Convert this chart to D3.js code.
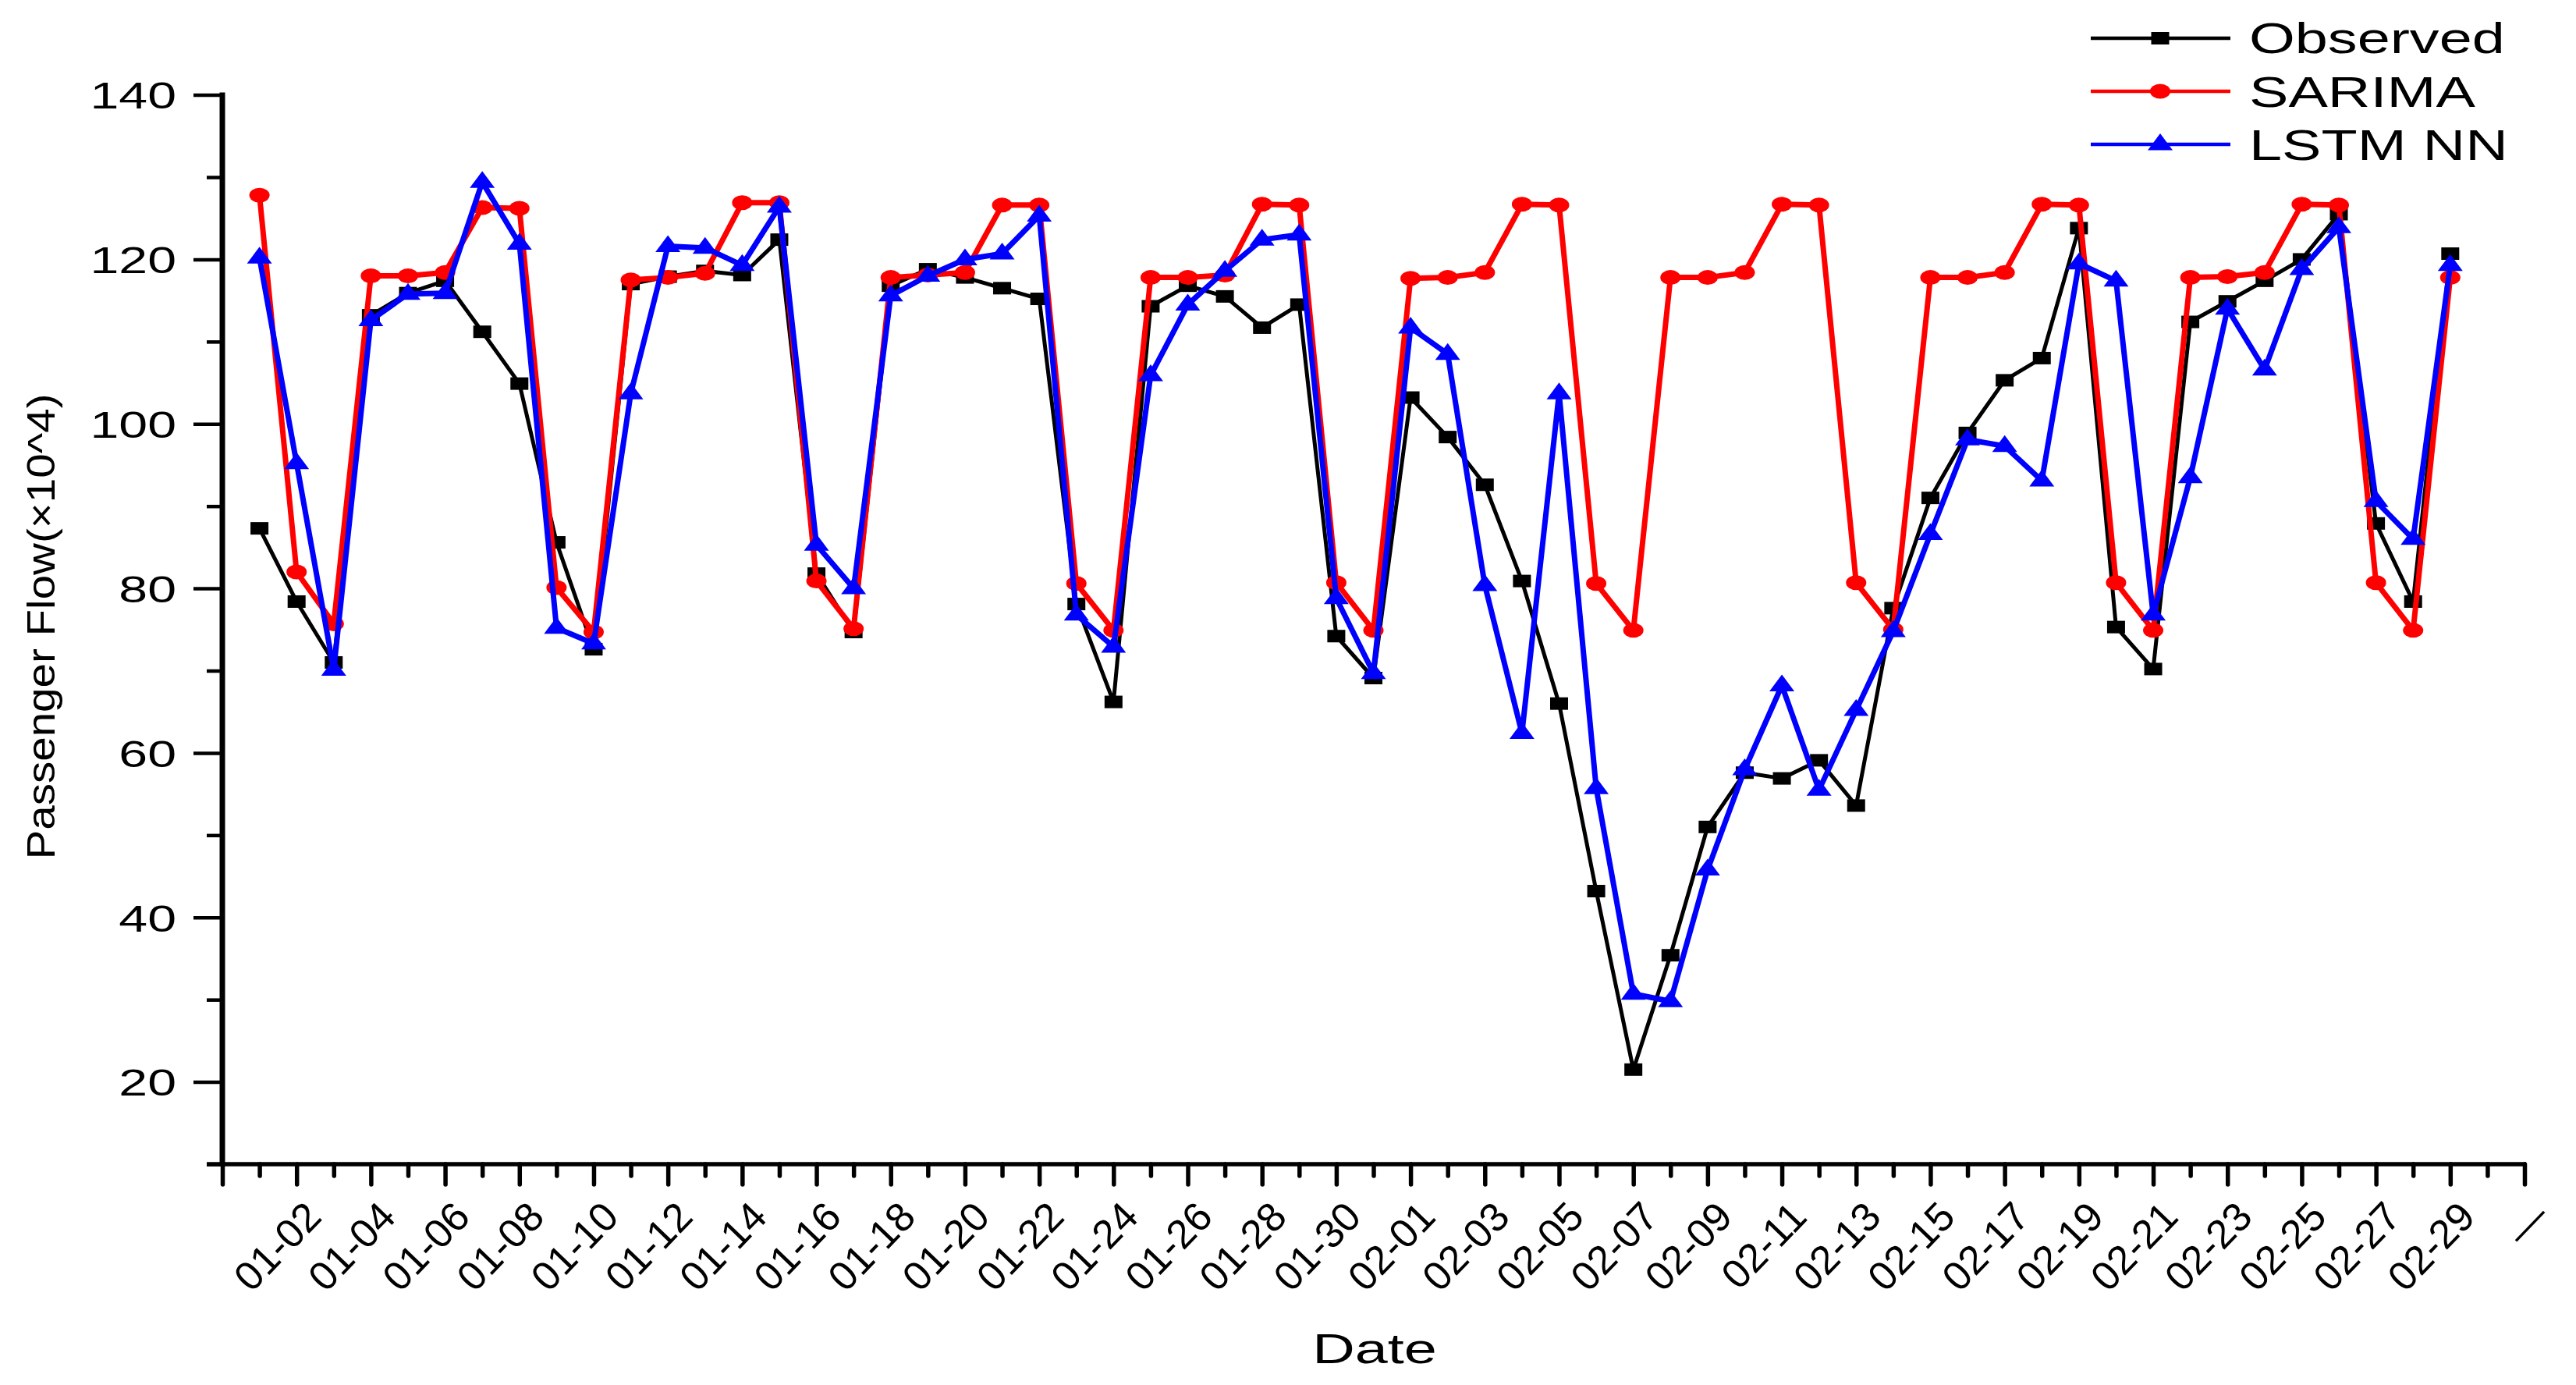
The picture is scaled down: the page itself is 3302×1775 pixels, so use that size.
<!DOCTYPE html>
<html><head><meta charset="utf-8">
<script src="https://cdn.jsdelivr.net/npm/d3@7"></script>
<style>
body{margin:0;background:#fff}
svg{display:block}
text{font-family:"Liberation Sans", Arial, sans-serif; fill:#000}
</style>
</head><body>
<svg id="chart" width="3302" height="1775"></svg>
<script>
// ---------------- data ----------------
const dates = ["01-01","01-02","01-03","01-04","01-05","01-06","01-07","01-08","01-09","01-10",
  "01-11","01-12","01-13","01-14","01-15","01-16","01-17","01-18","01-19","01-20",
  "01-21","01-22","01-23","01-24","01-25","01-26","01-27","01-28","01-29","01-30","01-31",
  "02-01","02-02","02-03","02-04","02-05","02-06","02-07","02-08","02-09","02-10",
  "02-11","02-12","02-13","02-14","02-15","02-16","02-17","02-18","02-19","02-20",
  "02-21","02-22","02-23","02-24","02-25","02-26","02-27","02-28","02-29"];

const observed = [87.3,78.4,71.0,113.2,115.9,117.4,111.2,104.9,85.6,72.6,
  117.0,117.9,118.6,118.1,122.4,81.8,74.7,116.8,118.8,117.8,
  116.5,115.2,78.1,66.2,114.3,116.8,115.5,111.7,114.5,74.2,69.1,
  103.2,98.4,92.6,80.9,66.0,43.2,21.5,35.4,51.0,
  57.6,56.9,59.1,53.6,77.6,91.0,98.9,105.3,108.0,123.8,
  75.3,70.2,112.4,114.9,117.4,120.0,125.5,87.9,78.4,120.7];

const sarima = [127.8,82.0,75.7,118.0,118.0,118.4,126.3,126.2,80.1,74.7,
  117.5,117.8,118.3,126.9,126.9,80.9,75.1,117.8,118.1,118.4,
  126.6,126.6,80.6,74.9,117.8,117.8,118.1,126.7,126.6,80.7,74.9,
  117.7,117.8,118.4,126.7,126.6,80.6,74.9,117.8,117.8,
  118.4,126.7,126.6,80.7,75.0,117.8,117.8,118.4,126.7,126.6,
  80.7,74.9,117.8,117.9,118.4,126.7,126.6,80.7,74.9,117.8];

const lstm = [120.2,95.2,70.1,112.6,115.8,115.9,129.4,121.9,75.2,73.3,
  103.7,121.6,121.4,119.3,126.4,85.3,80.0,115.6,118.0,120.0,
  120.7,125.3,76.8,72.9,105.9,114.5,118.6,122.4,123.0,78.8,69.7,
  111.7,108.5,80.4,62.4,103.7,55.7,30.7,29.8,45.8,
  58.0,68.2,55.5,65.2,74.8,86.6,98.1,97.3,93.1,119.5,
  117.4,76.8,93.5,114.0,106.6,118.8,123.9,90.6,86.0,119.3];

const seriesNames = ["Observed","SARIMA","LSTM NN"];
const yMajorTicks = [20,40,60,80,100,120,140];
const yMinorTicks = [10,30,50,70,90,110,130];
const xMajorTickLabels = ["","01-02","01-04","01-06","01-08","01-10","01-12","01-14","01-16","01-18",
  "01-20","01-22","01-24","01-26","01-28","01-30","02-01","02-03","02-05","02-07",
  "02-09","02-11","02-13","02-15","02-17","02-19","02-21","02-23","02-25","02-27","02-29","—"];
const xTitle = "Date";
const yTitle = "Passenger Flow(×10^4)";

// ---------------- layout ----------------
const svg = d3.select("#chart");
const x = d3.scaleLinear().domain([0, 62]).range([285, 3236]);
const y = d3.scaleLinear().domain([10, 140]).range([1492, 121.6]);
const SX = 1.38; // horizontal text stretch

// y axis minor
const gyMinor = svg.append("g").attr("transform","translate(285,0)")
  .call(d3.axisLeft(y).tickValues(yMinorTicks).tickSize(20).tickSizeOuter(0).tickFormat(""));
gyMinor.select(".domain").remove();
gyMinor.selectAll(".tick line").attr("stroke","#000").attr("stroke-width",4.5);

// y axis major
const gy = svg.append("g").attr("transform","translate(285,0)")
  .call(d3.axisLeft(y).tickValues(yMajorTicks).tickSize(37).tickSizeOuter(0).tickPadding(22));
gy.select(".domain").remove();
gy.selectAll(".tick line").attr("stroke","#000").attr("stroke-width",4.5);
gy.selectAll(".tick text")
  .attr("font-size",48)
  .attr("x", -59 / SX)
  .attr("dy","0.36em")
  .attr("transform",`scale(${SX},1)`);

// x axis minor
const gxMinor = svg.append("g").attr("transform","translate(0,1492)")
  .call(d3.axisBottom(x).tickValues(d3.range(1,62,2)).tickSize(15).tickSizeOuter(0).tickFormat(""));
gxMinor.select(".domain").remove();
gxMinor.selectAll(".tick line").attr("stroke","#000").attr("stroke-width",5.5).attr("stroke-linecap","round");

// x axis major
const gx = svg.append("g").attr("transform","translate(0,1492)")
  .call(d3.axisBottom(x).tickValues(d3.range(0,63,2)).tickSize(26).tickSizeOuter(0)
    .tickFormat((d,i) => xMajorTickLabels[i]));
gx.select(".domain").remove();
gx.selectAll(".tick line").attr("stroke","#000").attr("stroke-width",5.5).attr("stroke-linecap","round");
gx.selectAll(".tick text")
  .attr("font-size",52)
  .attr("x",null).attr("y",null).attr("dy",null)
  .attr("text-anchor","end")
  .attr("transform","translate(34,70) rotate(-46)");

// axis lines
svg.append("line").attr("x1",285).attr("x2",285).attr("y1",y(140)-3).attr("y2",1495)
  .attr("stroke","#000").attr("stroke-width",7);
svg.append("line").attr("x1",265).attr("x2",x(62)+2).attr("y1",1492).attr("y2",1492)
  .attr("stroke","#000").attr("stroke-width",5.5);

// axis titles
svg.append("text").attr("font-size",54).attr("text-anchor","middle")
  .attr("x",1762/1.4).attr("y",1747).attr("transform","scale(1.4,1)").text(xTitle);
svg.append("text").attr("font-size",50).attr("text-anchor","middle")
  .attr("transform","translate(70,803) rotate(-90)")
  .attr("textLength",597).attr("lengthAdjust","spacingAndGlyphs").text(yTitle);

// ---------------- series ----------------
const series = [
  {name: seriesNames[0], values: observed, color: "#000000", width: 5, marker: "square"},
  {name: seriesNames[1], values: sarima,   color: "#ff0000", width: 7, marker: "circle"},
  {name: seriesNames[2], values: lstm,     color: "#0000ff", width: 7, marker: "triangle"}
];

function drawMarker(g, type, cx, cy, color){
  if (type === "square") {
    g.append("rect").attr("x",cx-11.5).attr("y",cy-8).attr("width",23).attr("height",16).attr("fill",color);
  } else if (type === "circle") {
    g.append("ellipse").attr("cx",cx).attr("cy",cy).attr("rx",13).attr("ry",9.5).attr("fill",color);
  } else {
    g.append("path").attr("d",`M${cx},${cy-14} L${cx+16},${cy+7.5} L${cx-16},${cy+7.5} Z`).attr("fill",color);
  }
}

const line = d3.line().x((d,i)=>x(i+1)).y(d=>y(d));
series.forEach(s => {
  const g = svg.append("g");
  g.append("path").datum(s.values).attr("d",line).attr("fill","none")
    .attr("stroke",s.color).attr("stroke-width",s.width).attr("stroke-linejoin","round");
  s.values.forEach((v,i) => drawMarker(g, s.marker, x(i+1), y(v), s.color));
});

// ---------------- legend ----------------
const legendY = [49,117,185];
const legendBase = [68,137,205];
series.forEach((s,k) => {
  const g = svg.append("g");
  g.append("line").attr("x1",2680).attr("x2",2859).attr("y1",legendY[k]).attr("y2",legendY[k])
    .attr("stroke",s.color).attr("stroke-width",4.3);
  drawMarker(g, s.marker, 2769, legendY[k], s.color);
  g.append("text").attr("font-size",56).attr("x",2883/1.35).attr("y",legendBase[k])
    .attr("transform","scale(1.35,1)").text(s.name);
});
</script>
</body></html>
